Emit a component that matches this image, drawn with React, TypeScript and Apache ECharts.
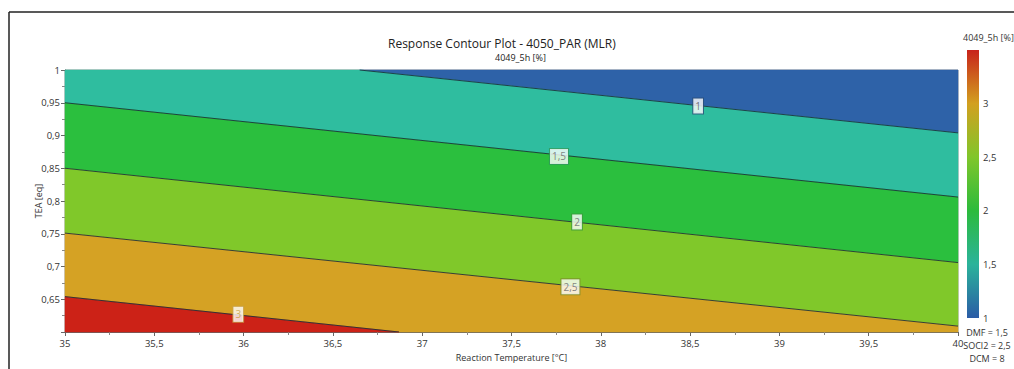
import React, { useEffect, useRef } from "react";
import * as echarts from "echarts";

// Axis ranges
const xRange = [35, 40];
const yRange = [0.6, 1];

// Contour levels and their lines (endpoints on the plot border)
const levels = [1, 1.5, 2, 2.5, 3];
const levelLines: number[][][] = [
  [[36.65, 1], [40, 0.904]],
  [[35, 0.95], [40, 0.806]],
  [[35, 0.85], [40, 0.706]],
  [[35, 0.751], [40, 0.609]],
  [[35, 0.654], [36.87, 0.6]],
];

// Contour label positions
const labelPoints: (number | string)[][] = [
  [38.545, 0.945, "1"],
  [37.766, 0.868, "1,5"],
  [37.867, 0.768, "2"],
  [37.83, 0.669, "2,5"],
  [35.97, 0.627, "3"],
];

// Colour scale range
const scaleRange = [1, 3.5];
const scaleTicks = [1, 1.5, 2, 2.5, 3];

const bandColors = ["#2e62a8", "#2fbd9f", "#2bbf3e", "#80c82a", "#d5a224", "#cc2217"];
const labelBorders = ["#2a4f78", "#2f9a5a", "#3a9a3a", "#7a8f2a", "#c9a34a"];
const labelColors = ["#555", "#666", "#666", "#666", "#c8a040"];

const fmt = (v: number) => String(Math.round(v * 100) / 100).replace(".", ",");

type P = number[];
function clipHalf(poly: P[], a: P, b: P, keepAbove: boolean): P[] {
  const lineY = (x: number) => a[1] + ((b[1] - a[1]) / (b[0] - a[0])) * (x - a[0]);
  const d = (p: P) => (keepAbove ? p[1] - lineY(p[0]) : lineY(p[0]) - p[1]);
  const out: P[] = [];
  for (let i = 0; i < poly.length; i++) {
    const p = poly[i];
    const q = poly[(i + 1) % poly.length];
    const dp = d(p);
    const dq = d(q);
    if (dp >= 0) out.push(p);
    if ((dp >= 0) !== (dq >= 0)) {
      const t = dp / (dp - dq);
      out.push([p[0] + t * (q[0] - p[0]), p[1] + t * (q[1] - p[1])]);
    }
  }
  return out;
}

function buildBands(): P[][] {
  const rect: P[] = [
    [xRange[0], yRange[0]],
    [xRange[1], yRange[0]],
    [xRange[1], yRange[1]],
    [xRange[0], yRange[1]],
  ];
  const bands: P[][] = [];
  for (let k = 0; k <= levels.length; k++) {
    let poly = rect;
    if (k > 0) poly = clipHalf(poly, levelLines[k - 1][0], levelLines[k - 1][1], false);
    if (k < levels.length) poly = clipHalf(poly, levelLines[k][0], levelLines[k][1], true);
    bands.push(poly);
  }
  return bands;
}

export default function App() {
  const ref = useRef<HTMLDivElement>(null);
  useEffect(() => {
    if (!ref.current) return;
    const chart = echarts.init(ref.current, null, { renderer: "svg" });
    const bands = buildBands();
    const font = "Open Sans";
    const gradient = () =>
      new echarts.graphic.LinearGradient(0, 0, 0, 1, [
        { offset: 0, color: "#c8231b" },
        { offset: 0.2, color: "#d2a01f" },
        { offset: 0.4, color: "#80c62b" },
        { offset: 0.6, color: "#2cbb3c" },
        { offset: 0.8, color: "#2bb39b" },
        { offset: 1, color: "#2b5ca6" },
      ]);

    const option: any = {
      animation: false,
      textStyle: { fontFamily: font },
      title: [
        {
          text: "Response Contour Plot - 4050_PAR (MLR)",
          left: 383,
          top: 32,
          textStyle: { fontSize: 12, fontWeight: "normal", color: "#222", fontFamily: font },
        },
        {
          text: "4049_5h [%]",
          left: 490,
          top: 48,
          textStyle: { fontSize: 9, fontWeight: "normal", color: "#222", fontFamily: font },
        },
      ],
      grid: [
        {
          left: 65,
          top: 70,
          width: 893,
          height: 262,
          show: true,
          borderColor: "#9a9a9a",
          borderWidth: 1,
          backgroundColor: "transparent",
        },
        { left: 967, top: 50, width: 12, height: 268 },
      ],
      xAxis: [
        {
          type: "value",
          gridIndex: 0,
          min: xRange[0],
          max: xRange[1],
          interval: 0.5,
          name: "Reaction Temperature [°C]",
          nameLocation: "middle",
          nameGap: 19,
          nameTextStyle: { fontSize: 9, color: "#333" },
          axisLine: { show: true, lineStyle: { color: "#666" } },
          axisTick: { show: true, length: 4, lineStyle: { color: "#666" } },
          minorTick: { show: true, splitNumber: 2, length: 3, lineStyle: { color: "#888" } },
          axisLabel: { fontSize: 9.5, color: "#333", margin: 6, formatter: (v: number) => fmt(v) },
          splitLine: { show: false },
        },
        {
          type: "category",
          gridIndex: 1,
          data: ["c"],
          show: false,
        },
      ],
      yAxis: [
        {
          type: "value",
          gridIndex: 0,
          min: yRange[0],
          max: yRange[1],
          interval: 0.05,
          name: "TEA [eq]",
          nameLocation: "middle",
          nameGap: 22,
          nameMoveOverlap: false,
          nameTextStyle: { fontSize: 9, color: "#333" },
          axisLine: { show: true, lineStyle: { color: "#666" } },
          axisTick: { show: true, length: 4, lineStyle: { color: "#666" } },
          minorTick: { show: true, splitNumber: 2, length: 3, lineStyle: { color: "#888" } },
          axisLabel: {
            fontSize: 9.5,
            color: "#333",
            margin: 5,
            showMinLabel: false,
            formatter: (v: number) => fmt(v),
          },
          splitLine: { show: false },
        },
        {
          type: "value",
          gridIndex: 1,
          min: scaleRange[0],
          max: scaleRange[1],
          interval: 0.5,
          position: "right",
          axisLine: { show: false },
          axisTick: { show: false },
          splitLine: { show: false },
          axisLabel: {
            fontSize: 9.5,
            color: "#333",
            margin: 4,
            showMaxLabel: false,
            formatter: (v: number) => (scaleTicks.indexOf(v) >= 0 ? fmt(v) : ""),
          },
        },
      ],
      series: [
        {
          type: "custom",
          xAxisIndex: 0,
          yAxisIndex: 0,
          z: 1,
          data: bands.map((_, i) => [i]),
          renderItem: (params: any, api: any) => {
            const poly = bands[params.dataIndex];
            return {
              type: "polygon",
              shape: { points: poly.map((p) => api.coord(p)) },
              style: { fill: bandColors[params.dataIndex], stroke: bandColors[params.dataIndex], lineWidth: 0.5 },
            };
          },
        },
        ...levelLines.map((ln, i) => ({
          type: "line",
          name: "L" + levels[i],
          xAxisIndex: 0,
          yAxisIndex: 0,
          z: 3,
          symbol: "none",
          data: ln,
          lineStyle: { color: "rgba(25,45,55,0.85)", width: 1 },
        })),
        {
          type: "scatter",
          xAxisIndex: 0,
          yAxisIndex: 0,
          z: 5,
          symbol: "rect",
          symbolSize: 0,
          data: labelPoints.map((p, i) => ({
            value: p,
            label: { borderColor: labelBorders[i], color: labelColors[i] },
          })),
          label: {
            show: true,
            position: "inside",
            formatter: (p: any) => p.value[2],
            backgroundColor: "#ffffff",
            borderWidth: 1,
            padding: [2, 2, 1, 2],
            fontSize: 10,
            lineHeight: 12,
          },
        },
        {
          type: "custom",
          xAxisIndex: 1,
          yAxisIndex: 1,
          data: [[0, scaleRange[0], scaleRange[1]]],
          renderItem: (params: any, api: any) => {
            const top = api.coord([api.value(0), api.value(2)]);
            const bot = api.coord([api.value(0), api.value(1)]);
            const w = api.size([1, 0])[0];
            return {
              type: "rect",
              shape: { x: top[0] - w / 2, y: top[1], width: w, height: bot[1] - top[1] },
              style: { fill: gradient() },
            };
          },
        },
      ],
      graphic: [
        { type: "line", shape: { x1: 9, y1: 12, x2: 1014, y2: 12 }, style: { stroke: "#222", lineWidth: 1.5 } },
        { type: "line", shape: { x1: 9, y1: 12, x2: 9, y2: 369 }, style: { stroke: "#222", lineWidth: 1.5 } },
        {
          type: "text",
          x: 963,
          y: 33,
          style: { text: "4049_5h [%]", fontSize: 9, fill: "#333", fontFamily: font },
        },
        {
          type: "text",
          x: 987,
          y: 326,
          style: {
            text: "DMF = 1,5\nSOCl2 = 2,5\nDCM = 8",
            fontSize: 9,
            lineHeight: 13,
            align: "center",
            fill: "#333",
            fontFamily: font,
          },
        },
      ],
    };
    chart.setOption(option);
    return () => chart.dispose();
  }, []);
  return (
    <div
      ref={ref}
      style={{ position: "fixed", left: 0, top: 0, width: 1014, height: 369, background: "#fff" }}
    />
  );
}
